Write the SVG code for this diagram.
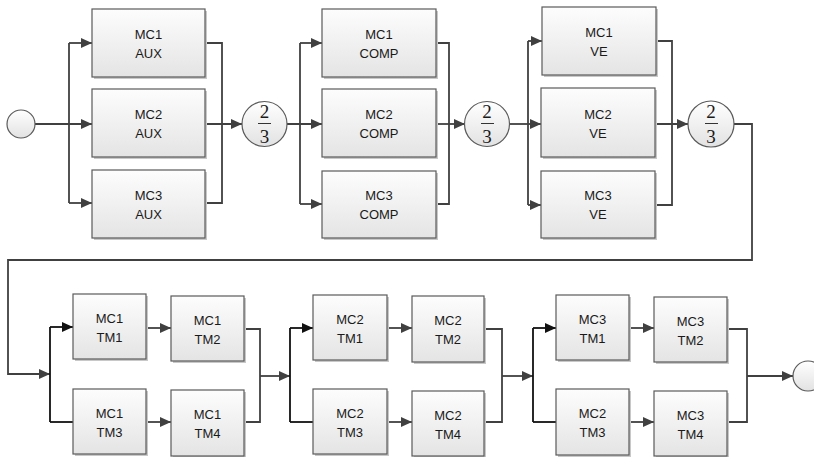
<svg xmlns="http://www.w3.org/2000/svg" width="814" height="457" viewBox="0 0 814 457">
<defs>
<linearGradient id="bg" x1="0" y1="0" x2="0" y2="1">
<stop offset="0" stop-color="#fdfdfd"/><stop offset="1" stop-color="#e4e4e4"/>
</linearGradient>
<linearGradient id="cg" x1="0" y1="0" x2="0" y2="1">
<stop offset="0" stop-color="#ffffff"/><stop offset="1" stop-color="#e2e2e2"/>
</linearGradient>
<marker id="ar" markerUnits="userSpaceOnUse" markerWidth="11" markerHeight="10" refX="11" refY="5" orient="auto">
<path d="M0,0 L11,5 L0,10 z" fill="#404040"/>
</marker>
<marker id="arb" markerUnits="userSpaceOnUse" markerWidth="11" markerHeight="10" refX="11" refY="5" orient="auto">
<path d="M0,0 L11,5 L0,10 z" fill="#111"/>
</marker>
</defs>
<style>
.b{fill:url(#bg);stroke:#5a5a5a;stroke-width:1.2}
.sh{fill:#c8c8c8}
.c{fill:url(#cg);stroke:#5a5a5a;stroke-width:1.2}
.t{font-family:"Liberation Sans",Arial,sans-serif;font-size:13px;fill:#1a1a1a;text-anchor:middle}
.f{font-family:"Liberation Serif","Times New Roman",serif;font-size:19px;fill:#1a1a1a;text-anchor:middle}
.l{fill:none;stroke:#404040;stroke-width:1.8}
.la{fill:none;stroke:#404040;stroke-width:1.8;marker-end:url(#ar)}
.lk{fill:none;stroke:#111;stroke-width:1.8}
.lka{fill:none;stroke:#111;stroke-width:1.8;marker-end:url(#arb)}
</style>

<g id="connectors">
<!-- stage 1 -->
<path class="la" d="M35,124 H92"/>
<path class="l" d="M69,43 V203"/>
<path class="la" d="M69,43 H92"/>
<path class="la" d="M69,203 H92"/>
<path class="l" d="M205,43 H222 V203 H205"/>
<path class="la" d="M205,124 H242"/>
<!-- stage 2 -->
<path class="la" d="M287,124 H322"/>
<path class="l" d="M300,43 V204"/>
<path class="la" d="M300,43 H322"/>
<path class="la" d="M300,204 H322"/>
<path class="l" d="M436,43 H449 V204 H436"/>
<path class="la" d="M436,124 H465"/>
<!-- stage 3 -->
<path class="la" d="M509,124 H541"/>
<path class="l" d="M528,41 V205"/>
<path class="la" d="M528,41 H542"/>
<path class="la" d="M528,205 H541"/>
<path class="l" d="M656,41 H672 V205 H655"/>
<path class="la" d="M655,124 H688"/>
<!-- return -->
<path class="la" d="M734,124 H752 V260 H8 V374 H50"/>
<!-- group 1 -->
<path class="lk" d="M50,422 V327"/>
<path class="lka" d="M50,327 H73"/>
<path class="lk" d="M50,422 H73"/>
<path class="la" d="M146,328 H171"/>
<path class="la" d="M146,422 H171"/>
<path class="l" d="M244,329 H260 V422 H244"/>
<path class="la" d="M260,376 H290"/>
<!-- group 2 -->
<path class="lk" d="M290,422 V328"/>
<path class="lka" d="M290,328 H313"/>
<path class="lk" d="M290,422 H313"/>
<path class="la" d="M387,328 H412"/>
<path class="la" d="M387,422 H412"/>
<path class="l" d="M484,329 H502 V422 H484"/>
<path class="la" d="M502,376 H533"/>
<!-- group 3 -->
<path class="lk" d="M533,422 V328"/>
<path class="lka" d="M533,328 H556"/>
<path class="lk" d="M533,422 H556"/>
<path class="la" d="M629,328 H654"/>
<path class="la" d="M629,422 H654"/>
<path class="l" d="M727,329 H747 V422 H727"/>
<path class="la" d="M747,376 H793"/>
</g>

<g id="start"><circle class="c" cx="21" cy="124" r="14"/></g>

<g id="aux1"><rect class="sh" x="94" y="11" width="113" height="68"/><rect class="b" x="92" y="9" width="113" height="68"/><text class="t" x="148.5" y="39">MC1</text><text class="t" x="148.5" y="58">AUX</text></g>
<g id="aux2"><rect class="sh" x="94" y="91" width="113" height="68"/><rect class="b" x="92" y="89" width="113" height="68"/><text class="t" x="148.5" y="119">MC2</text><text class="t" x="148.5" y="138">AUX</text></g>
<g id="aux3"><rect class="sh" x="94" y="172" width="113" height="68"/><rect class="b" x="92" y="170" width="113" height="68"/><text class="t" x="148.5" y="200">MC3</text><text class="t" x="148.5" y="219">AUX</text></g>

<g id="vote1"><circle class="c" cx="264.5" cy="124" r="22.5"/><text class="f" x="264.5" y="118">2</text><line x1="258" y1="123.5" x2="271" y2="123.5" stroke="#333" stroke-width="1"/><text class="f" x="264.5" y="143">3</text></g>

<g id="comp1"><rect class="sh" x="324" y="11" width="114" height="68"/><rect class="b" x="322" y="9" width="114" height="68"/><text class="t" x="379" y="39">MC1</text><text class="t" x="379" y="58">COMP</text></g>
<g id="comp2"><rect class="sh" x="324" y="91" width="114" height="68"/><rect class="b" x="322" y="89" width="114" height="68"/><text class="t" x="379" y="119">MC2</text><text class="t" x="379" y="138">COMP</text></g>
<g id="comp3"><rect class="sh" x="324" y="173" width="114" height="67"/><rect class="b" x="322" y="171" width="114" height="67"/><text class="t" x="379" y="200">MC3</text><text class="t" x="379" y="219">COMP</text></g>

<g id="vote2"><circle class="c" cx="487" cy="124" r="22.5"/><text class="f" x="487" y="118">2</text><line x1="481" y1="123.5" x2="494" y2="123.5" stroke="#333" stroke-width="1"/><text class="f" x="487" y="143">3</text></g>

<g id="ve1"><rect class="sh" x="544" y="9" width="114" height="68"/><rect class="b" x="542" y="7" width="114" height="68"/><text class="t" x="599" y="37">MC1</text><text class="t" x="599" y="56">VE</text></g>
<g id="ve2"><rect class="sh" x="543" y="90" width="114" height="69"/><rect class="b" x="541" y="88" width="114" height="69"/><text class="t" x="598" y="119">MC2</text><text class="t" x="598" y="138">VE</text></g>
<g id="ve3"><rect class="sh" x="543" y="173" width="114" height="67"/><rect class="b" x="541" y="171" width="114" height="67"/><text class="t" x="598" y="200">MC3</text><text class="t" x="598" y="219">VE</text></g>

<g id="vote3"><circle class="c" cx="711" cy="124" r="23"/><text class="f" x="711" y="118">2</text><line x1="705" y1="123.5" x2="718" y2="123.5" stroke="#333" stroke-width="1"/><text class="f" x="711" y="143">3</text></g>

<g id="mc1tm1"><rect class="sh" x="75" y="296" width="73" height="65"/><rect class="b" x="73" y="294" width="73" height="65"/><text class="t" x="109.5" y="323">MC1</text><text class="t" x="109.5" y="342">TM1</text></g>
<g id="mc1tm2"><rect class="sh" x="173" y="298" width="73" height="65"/><rect class="b" x="171" y="296" width="73" height="65"/><text class="t" x="207.5" y="325">MC1</text><text class="t" x="207.5" y="344">TM2</text></g>
<g id="mc1tm3"><rect class="sh" x="75" y="391" width="73" height="65"/><rect class="b" x="73" y="389" width="73" height="65"/><text class="t" x="109.5" y="418">MC1</text><text class="t" x="109.5" y="437">TM3</text></g>
<g id="mc1tm4"><rect class="sh" x="173" y="392" width="73" height="66"/><rect class="b" x="171" y="390" width="73" height="66"/><text class="t" x="207.5" y="419">MC1</text><text class="t" x="207.5" y="438">TM4</text></g>

<g id="mc2tm1"><rect class="sh" x="315" y="297" width="74" height="65"/><rect class="b" x="313" y="295" width="74" height="65"/><text class="t" x="350" y="324">MC2</text><text class="t" x="350" y="343">TM1</text></g>
<g id="mc2tm2"><rect class="sh" x="414" y="298" width="72" height="66"/><rect class="b" x="412" y="296" width="72" height="66"/><text class="t" x="448" y="325">MC2</text><text class="t" x="448" y="344">TM2</text></g>
<g id="mc2tm3"><rect class="sh" x="315" y="391" width="74" height="65"/><rect class="b" x="313" y="389" width="74" height="65"/><text class="t" x="350" y="418">MC2</text><text class="t" x="350" y="437">TM3</text></g>
<g id="mc2tm4"><rect class="sh" x="414" y="393" width="72" height="65"/><rect class="b" x="412" y="391" width="72" height="65"/><text class="t" x="448" y="420">MC2</text><text class="t" x="448" y="439">TM4</text></g>

<g id="mc3tm1"><rect class="sh" x="558" y="297" width="73" height="65"/><rect class="b" x="556" y="295" width="73" height="65"/><text class="t" x="592.5" y="324">MC3</text><text class="t" x="592.5" y="343">TM1</text></g>
<g id="mc3tm2"><rect class="sh" x="656" y="299" width="73" height="65"/><rect class="b" x="654" y="297" width="73" height="65"/><text class="t" x="690.5" y="326">MC3</text><text class="t" x="690.5" y="345">TM2</text></g>
<g id="mc2tm3b"><rect class="sh" x="558" y="391" width="73" height="66"/><rect class="b" x="556" y="389" width="73" height="66"/><text class="t" x="592.5" y="418">MC2</text><text class="t" x="592.5" y="437">TM3</text></g>
<g id="mc3tm4"><rect class="sh" x="656" y="393" width="73" height="65"/><rect class="b" x="654" y="391" width="73" height="65"/><text class="t" x="690.5" y="420">MC3</text><text class="t" x="690.5" y="439">TM4</text></g>

<g id="end"><circle class="c" cx="808" cy="376" r="15"/></g>
</svg>
